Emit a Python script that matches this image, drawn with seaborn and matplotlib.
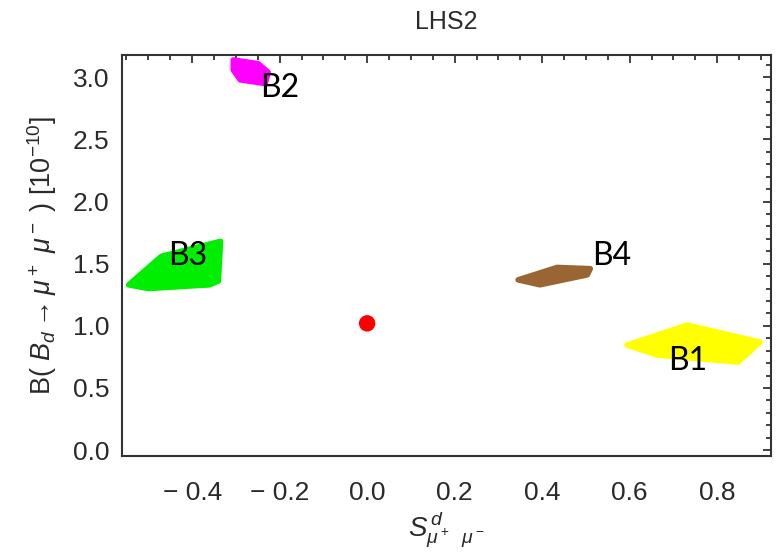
import numpy as np
import pandas as pd
import matplotlib
matplotlib.use("Agg")
import matplotlib.pyplot as plt
from matplotlib.ticker import MultipleLocator
import seaborn as sns

# ---- data ----
b1_x = [0.594, 0.731, 0.898, 0.848, 0.663]
b1_y = [0.845, 1.006, 0.869, 0.708, 0.764]
b2_x = [-0.306, -0.249, -0.226, -0.233, -0.290, -0.306]
b2_y = [3.14, 3.11, 3.04, 2.95, 2.98, 3.06]
b3_x = [-0.545, -0.47, -0.335, -0.34, -0.36, -0.50]
b3_y = [1.33, 1.56, 1.68, 1.36, 1.33, 1.30]
b4_x = [0.345, 0.434, 0.510, 0.503, 0.395]
b4_y = [1.37, 1.47, 1.46, 1.41, 1.33]
sm_x = [0.0]
sm_y = [1.02]

region_names = ["B1", "B2", "B3", "B4"]
region_colors = ["#FFFF00", "#FF00FF", "#00EE00", "#996633"]
label_x = [0.688, -0.245, -0.455, 0.514]
label_y = [0.644, 2.84, 1.49, 1.49]

x_ticks = [-0.4, -0.2, 0.0, 0.2, 0.4, 0.6, 0.8]
y_ticks = [0.0, 0.5, 1.0, 1.5, 2.0, 2.5, 3.0]

sns.set_theme(style="white")
plt.rcParams['font.family'] = ['Liberation Sans', 'DejaVu Sans']
plt.rcParams['mathtext.fontset'] = 'custom'
plt.rcParams['mathtext.rm'] = 'Liberation Sans'
plt.rcParams['mathtext.it'] = 'Liberation Sans:italic'
plt.rcParams['mathtext.bf'] = 'Liberation Sans:bold'

fig = plt.figure(figsize=(7.77, 5.6), dpi=100)
ax = fig.add_axes([0.1566, 0.1857, 0.9923 - 0.1566, 0.9018 - 0.1857])

regions = [(b1_x, b1_y), (b2_x, b2_y), (b3_x, b3_y), (b4_x, b4_y)]
for (xs, ys), c in zip(regions, region_colors):
    ax.fill(xs, ys, color=c, edgecolor=c, linewidth=4, joinstyle='round', zorder=2)

sm = pd.DataFrame({"x": sm_x, "y": sm_y})
sns.scatterplot(data=sm, x="x", y="y", color="#FF0000", s=140, edgecolor="none",
                ax=ax, zorder=3)

for name, lx, ly in zip(region_names, label_x, label_y):
    ax.text(lx, ly, name, fontsize=23, color="black", ha="left", va="baseline",
            family=['Lato', 'DejaVu Sans'], zorder=4)

ax.set_xlim(-0.561, 0.923)
ax.set_ylim(-0.048, 3.18)
ax.set_xticks(x_ticks)
ax.set_yticks(y_ticks)
ax.set_xticklabels([f"{v:.1f}".replace("-", "\u2212 ") for v in x_ticks])
ax.set_yticklabels([f"{v:.1f}" for v in y_ticks])
ax.xaxis.set_minor_locator(MultipleLocator(0.05))
ax.yaxis.set_minor_locator(MultipleLocator(0.1))
ax.tick_params(which='both', direction='in', top=True, right=True, color='#333333',
               width=1.3)
ax.tick_params(which='major', length=6)
ax.tick_params(which='minor', length=3.5)
ax.tick_params(axis='x', which='major', labelsize=19, labelcolor='#2a2a2a', pad=18)
ax.tick_params(axis='y', which='major', labelsize=19, labelcolor='#2a2a2a', pad=9)
for sp in ax.spines.values():
    sp.set_color('#333333')
    sp.set_linewidth(1.5)

ax.set_xlabel(r"$S^{\,d}_{\mu^+\ \ \mu^-}$", fontsize=20, color='#2a2a2a', labelpad=3)
ax.set_ylabel(r"B( $B_d \rightarrow \mu^+\ \mu^-$ ) [$10^{-10}$]", fontsize=19.5,
              color='#2a2a2a', labelpad=10)
ax.set_title("LHS2", fontsize=18, color='#2a2a2a', pad=19)

fig.savefig("out.png", dpi=100)
